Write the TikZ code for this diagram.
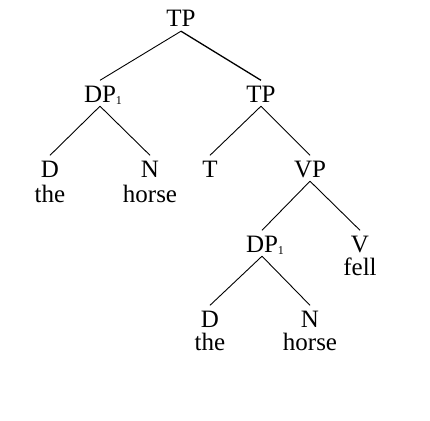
\documentclass[tikz,border=0pt]{standalone}
\usepackage{fontspec}
\setmainfont{Liberation Serif}
\newcommand{\subone}{\rlap{\raisebox{-2.5pt}{\fontsize{12}{12}\selectfont 1}}}
\begin{document}
\begin{tikzpicture}[x=1pt,y=-1pt,
  cat/.style={anchor=base,inner xsep=0pt,inner ysep=4pt,text height=17.5pt,text depth=0pt,font=\fontsize{25}{25}\selectfont},
  word/.style={anchor=base,inner sep=0pt,font=\fontsize{25}{25}\selectfont},
  branch/.style={line width=0.9pt}]
\useasboundingbox (0,0) rectangle (430,420);
% categories
\node[cat] (tp) at (181,27) {TP};
\node[cat] (dp) at (100,102) {DP\subone};
\node[cat] (tp2) at (261,102) {TP};
\node[cat] (d1) at (50,177) {D};
\node[cat] (n1) at (150,177) {N};
\node[cat] (t) at (210,177) {T};
\node[cat] (vp) at (310,177) {VP};
\node[cat] (dp2) at (262,252) {DP\subone};
\node[cat] (v) at (360,252) {V};
\node[cat] (d2) at (210,327) {D};
\node[cat] (n2) at (310,327) {N};
% words
\node[word] (w1) at (50,202) {the};
\node[word] (w2) at (150,202) {horse};
\node[word] (w3) at (360,275) {fell};
\node[word] (w4) at (210,350) {the};
\node[word] (w5) at (310,350) {horse};
% branches
\draw[branch] (tp.south) -- (dp.north);
\draw[branch,line width=1.3pt] (tp.south) -- (tp2.north);
\draw[branch] (dp.south) -- (d1.north);
\draw[branch] (dp.south) -- (n1.north);
\draw[branch] (tp2.south) -- (t.north);
\draw[branch] (tp2.south) -- (vp.north);
\draw[branch] (vp.south) -- (dp2.north);
\draw[branch] (vp.south) -- (v.north);
\draw[branch] (dp2.south) -- (d2.north);
\draw[branch] (dp2.south) -- (n2.north);
\end{tikzpicture}
\end{document}
